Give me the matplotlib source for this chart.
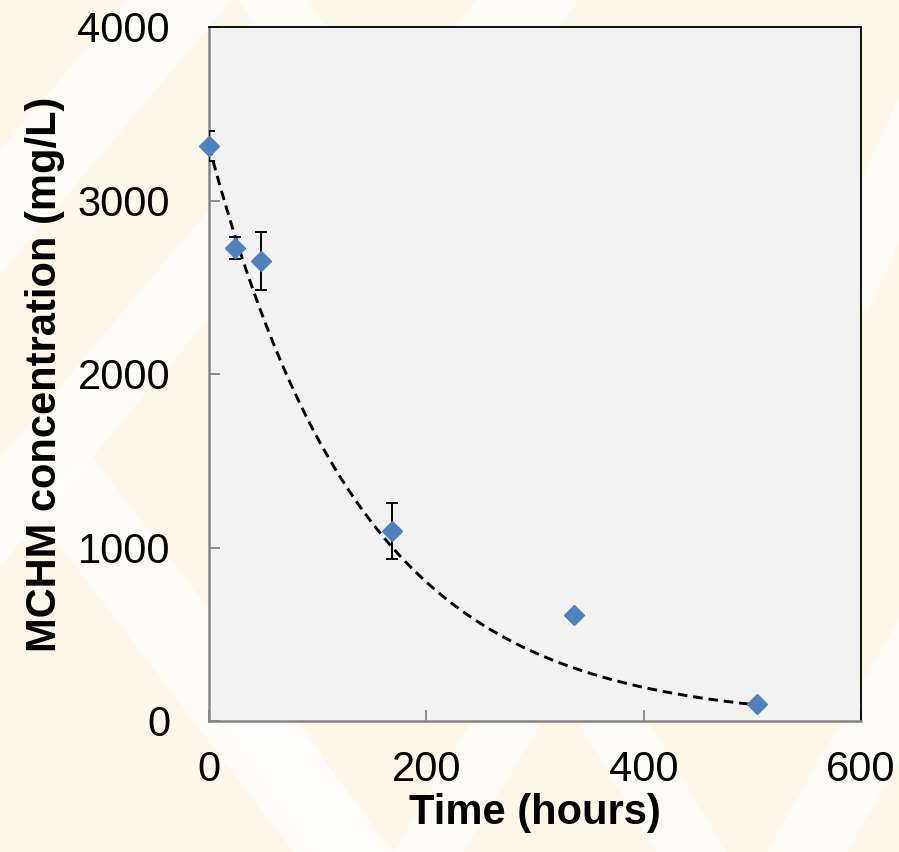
# MCHM concentration over time with exponential decay fit
import numpy as np
import matplotlib.pyplot as plt
from matplotlib.patches import Polygon

# measured data
time_h = [0, 24, 48, 168, 336, 504]
conc = [3314, 2726, 2651, 1095, 611, 96]
conc_err = [85, 64, 167, 163, 15, 10]

# fitted first-order decay C = c0 * exp(-k t)
fit_c0 = 3314
fit_k = 0.0071
fit_tmax = 504

xticks = [0, 200, 400, 600]
yticks = [0, 1000, 2000, 3000, 4000]

W, H = 899, 852


def _stripe(fig, x0, y0, x1, y1, width, color="white", alpha=0.6):
    """Decorative diagonal band, given in pixel coords (y from top)."""
    d = np.array([x1 - x0, y1 - y0], float)
    n = np.array([-d[1], d[0]]) / np.hypot(*d) * width / 2
    pts = np.array([[x0, y0], [x1, y1], [x1, y1], [x0, y0]], float)
    pts[:2] += n
    pts[2:] -= n
    pts[:, 0] /= W
    pts[:, 1] = 1 - pts[:, 1] / H
    fig.add_artist(Polygon(pts, closed=True, transform=fig.transFigure,
                           facecolor=color, edgecolor="none", alpha=alpha, zorder=-10))


plt.rcParams["font.family"] = ["Liberation Sans", "DejaVu Sans"]

fig = plt.figure(figsize=(W / 100, H / 100), dpi=100)
fig.patch.set_facecolor("#fef8ea")

# background chevron pattern
_stripe(fig, -40, 260, 230, -60, 80)
_stripe(fig, -40, 560, 330, 120, 70)
_stripe(fig, 60, 480, 380, 900, 80)
_stripe(fig, 250, 700, 380, 900, 60)
_stripe(fig, 520, 700, 400, 900, 60)
_stripe(fig, 600, 700, 720, 900, 60)
_stripe(fig, 950, 600, 780, 900, 70)
_stripe(fig, 250, -40, 310, 60, 60)
_stripe(fig, 560, -40, 480, 60, 80)
_stripe(fig, 940, 80, 840, 300, 60)

ax = fig.add_axes([209 / W, 1 - 721 / H, (861 - 209) / W, (721 - 27) / H])
ax.set_facecolor("#f2f2f2")

t_fit = np.linspace(0, fit_tmax, 200)
ax.plot(t_fit, fit_c0 * np.exp(-fit_k * t_fit), color="black", lw=2.1,
        linestyle=(0, (3.3, 2.0)), zorder=2)

ax.errorbar(time_h, conc, yerr=conc_err, fmt="none", ecolor="black",
            elinewidth=1.4, capsize=4.3, capthick=1.4, zorder=3)
ax.plot(time_h, conc, linestyle="none", marker="D", markersize=10,
        color="#4f81bd", markeredgecolor="#4f81bd", zorder=4, clip_on=False)

ax.set_xlim(0, 600)
ax.set_ylim(0, 4000)
ax.set_xticks(xticks)
ax.set_yticks(yticks)
ax.tick_params(direction="in", length=8, width=1.3, color="#868686",
               labelsize=30, labelcolor="black")
ax.tick_params(axis="x", pad=21)
ax.tick_params(axis="y", pad=28)

for s in ("left", "bottom"):
    ax.spines[s].set_color("#868686")
    ax.spines[s].set_linewidth(1.8)
for s in ("top", "right"):
    ax.spines[s].set_color("black")
    ax.spines[s].set_linewidth(1.3)

ax.set_xlabel("Time (hours)", fontsize=30, fontweight="bold", labelpad=2)
ax.set_ylabel("MCHM concentration (mg/L)", fontsize=30, fontweight="bold", labelpad=9)

fig.savefig("out.png", dpi=100, facecolor=fig.get_facecolor())
